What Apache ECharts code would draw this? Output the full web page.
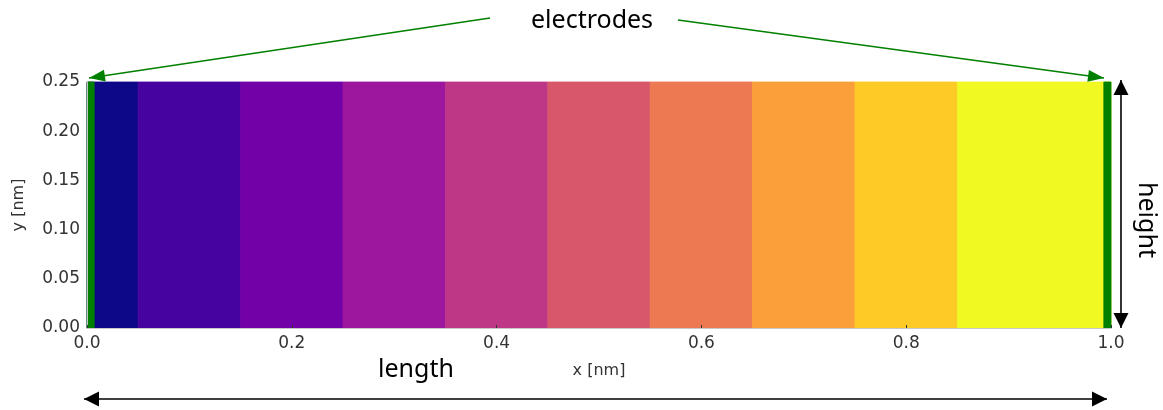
<!DOCTYPE html>
<html>
<head>
<meta charset="utf-8">
<script src="https://cdn.jsdelivr.net/npm/echarts@6/dist/echarts.min.js"></script>
<style>
  html, body { margin: 0; padding: 0; background: #fff; }
  #chart { width: 1163px; height: 410px; }
</style>
</head>
<body>
<div id="chart"></div>
<script>
// colour bands along x (plasma), edges in nm
var bandEdges = [0, 0.05, 0.15, 0.25, 0.35, 0.45, 0.55, 0.65, 0.75, 0.85, 1.0]
var bandColors = ['#0d0887', '#46039f', '#7201a8', '#9c179e', '#bd3786',
  '#d8576b', '#ed7953', '#fb9f3a', '#fdca26', '#f0f921']
// electrode strips at both ends
var electrodeStart = [0, 0.993]
var electrodeEnd = [0.007, 1.0]
var yMin = 0
var yMax = 0.25
var xTicks = [0, 0.2, 0.4, 0.6, 0.8, 1.0]
var yTicks = [0, 0.05, 0.1, 0.15, 0.2, 0.25]

var bandData = []
for (var i = 0; i < bandColors.length; i++) {
  bandData.push({ value: [bandEdges[i], bandEdges[i + 1], yMin, yMax], itemStyle: { color: bandColors[i] } })
}
var electrodeData = electrodeStart.map(function (s, i) {
  return [s, electrodeEnd[i], yMin, yMax]
})

function renderRect (params, api) {
  var p0 = api.coord([api.value(0), api.value(3)])
  var p1 = api.coord([api.value(1), api.value(2)])
  var c = api.visual('color')
  return {
    type: 'rect',
    shape: { x: p0[0], y: p0[1], width: p1[0] - p0[0], height: p1[1] - p0[1] },
    style: { fill: c, stroke: c, lineWidth: 0.8 }
  }
}

// arrow helper for the annotations
function arrow (x1, y1, x2, y2, color, headLen, headW, both) {
  var els = [{
    type: 'line',
    shape: { x1: x1, y1: y1, x2: x2, y2: y2 },
    style: { stroke: color, lineWidth: 1.6 },
    z: 10
  }]
  function head (ax, ay, bx, by) {
    var dx = bx - ax
    var dy = by - ay
    var len = Math.sqrt(dx * dx + dy * dy)
    var ux = dx / len
    var uy = dy / len
    var baseX = bx - ux * headLen
    var baseY = by - uy * headLen
    return {
      type: 'polygon',
      shape: { points: [[bx, by], [baseX - uy * headW / 2, baseY + ux * headW / 2], [baseX + uy * headW / 2, baseY - ux * headW / 2]] },
      style: { fill: color },
      z: 10
    }
  }
  els.push(head(x1, y1, x2, y2))
  if (both) els.push(head(x2, y2, x1, y1))
  return els
}

var annoFont = '"Noto Sans", "Open Sans", sans-serif'
var graphics = [].concat(
  arrow(490, 18, 89, 78, '#008000', 16, 12, false),
  arrow(678, 20, 1104, 78, '#008000', 16, 12, false),
  arrow(1121, 80, 1121, 328, '#000', 15, 15, true),
  arrow(84, 399, 1107, 399, '#000', 15, 15, true),
  [
    { type: 'text', left: 531, top: 8, style: { text: 'electrodes', font: '25px ' + annoFont, fill: '#000' } },
    { type: 'text', left: 378, top: 357, style: { text: 'length', font: '25px ' + annoFont, fill: '#000' } },
    {
      type: 'text', x: 1146, y: 220, rotation: -Math.PI / 2,
      style: { text: 'height', font: '25px ' + annoFont, fill: '#000', align: 'center', verticalAlign: 'middle' }
    }
  ]
)

var chart = echarts.init(document.getElementById('chart'))
var labelStyle = { fontFamily: 'DejaVu Sans', fontSize: 17, color: '#333' }

chart.setOption({
  animation: false,
  grid: { left: 87, right: 52, top: 82, bottom: 82 },
  xAxis: [{
    type: 'value',
    min: 0,
    max: 1,
    interval: 0.2,
    z: 5,
    name: 'x [nm]',
    nameLocation: 'middle',
    nameGap: 35,
    nameTextStyle: { fontFamily: 'DejaVu Sans', fontSize: 16, color: '#333' },
    axisLine: { show: true, lineStyle: { color: '#c8c8c8', width: 1 } },
    axisTick: { show: true, inside: true, length: 3, lineStyle: { color: '#333' } },
    axisLabel: Object.assign({ margin: 7, formatter: function (v) { return v.toFixed(1) } }, labelStyle),
    splitLine: { show: false }
  }, {
    type: 'value',
    position: 'top',
    min: 0,
    max: 1,
    z: 5,
    axisLine: { show: true, lineStyle: { color: '#c8c8c8', width: 1 } },
    axisTick: { show: false },
    axisLabel: { show: false },
    splitLine: { show: false }
  }],
  yAxis: [{
    type: 'value',
    min: yMin,
    max: yMax,
    interval: 0.05,
    z: 5,
    name: 'y [nm]',
    nameLocation: 'middle',
    nameGap: 60,
    nameTextStyle: { fontFamily: 'DejaVu Sans', fontSize: 16, color: '#333' },
    axisLine: { show: true, lineStyle: { color: '#c8c8c8', width: 1 } },
    axisTick: { show: false },
    axisLabel: Object.assign({ margin: 7, formatter: function (v) { return v.toFixed(2) } }, labelStyle),
    splitLine: { show: false }
  }, {
    type: 'value',
    position: 'right',
    min: yMin,
    max: yMax,
    z: 5,
    axisLine: { show: true, lineStyle: { color: '#c8c8c8', width: 1 } },
    axisTick: { show: false },
    axisLabel: { show: false },
    splitLine: { show: false }
  }],
  series: [{
    type: 'custom',
    renderItem: renderRect,
    encode: { x: [0, 1], y: [2, 3] },
    data: bandData
  }, {
    type: 'custom',
    renderItem: renderRect,
    encode: { x: [0, 1], y: [2, 3] },
    itemStyle: { color: '#008000' },
    data: electrodeData
  }],
  graphic: graphics
})
</script>
</body>
</html>
